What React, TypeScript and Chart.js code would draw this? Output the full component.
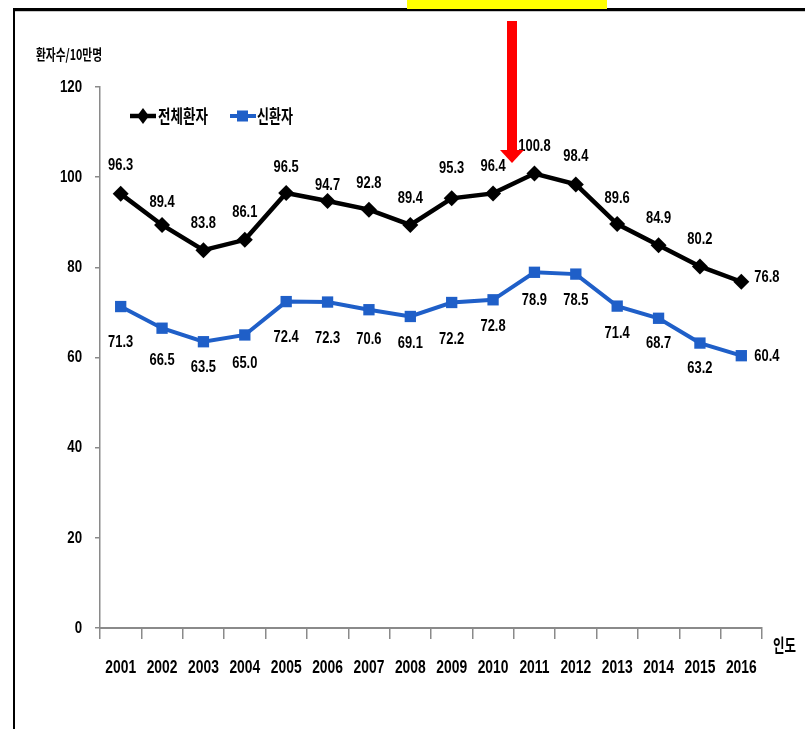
import React, { useEffect, useRef } from "react";
import { Chart, registerables } from "chart.js";

Chart.register(...registerables);

// ---- data ----
const years = ["2001", "2002", "2003", "2004", "2005", "2006", "2007", "2008", "2009", "2010", "2011", "2012", "2013", "2014", "2015", "2016"];
const totalPatients = [96.3, 89.4, 83.8, 86.1, 96.5, 94.7, 92.8, 89.4, 95.3, 96.4, 100.8, 98.4, 89.6, 84.9, 80.2, 76.8];
const newPatients = [71.3, 66.5, 63.5, 65.0, 72.4, 72.3, 70.6, 69.1, 72.2, 72.8, 78.9, 78.5, 71.4, 68.7, 63.2, 60.4];
const yTickValues = [0, 20, 40, 60, 80, 100, 120];
const seriesNames = ["전체환자", "신환자"];
const yAxisTitle = "환자수/10만명";
const xAxisTitle = "인도";

// ---- style ----
const FONT = "'Liberation Sans', Arial, sans-serif";
const KR = "'Noto Sans CJK KR', 'Noto Sans', sans-serif";
const BLACK = "#000000";
const BLUE = "#1f5fc8";
const AXIS = "#8a8a8a";
// label vertical nudges (px, relative to the point) as placed in the source
const totalLabelDy = [-29, -23, -27, -28, -26, -16, -26, -27, -30, -27, -27, -28, -26, -27, -27, -4];
const newLabelDy = [36, 32, 26, 28, 36, 36, 30, 27, 37, 27, 28, 26, 27, 25, 25, 1];

function squeezedText(ctx: CanvasRenderingContext2D, txt: string, x: number, y: number, k: number) {
  const w = ctx.measureText(txt).width;
  ctx.fillText(txt, x, y, w * k);
}

const decorPlugin = {
  id: "decor",
  afterDatasetsDraw(chart: any) {
    const ctx = chart.ctx as CanvasRenderingContext2D;
    ctx.save();
    ctx.font = `bold 17px ${FONT}`;
    ctx.fillStyle = "#000";
    ctx.textBaseline = "middle";
    const last = years.length - 1;
    [0, 1].forEach((di) => {
      const meta = chart.getDatasetMeta(di);
      const vals = di === 0 ? totalPatients : newPatients;
      const dys = di === 0 ? totalLabelDy : newLabelDy;
      meta.data.forEach((pt: any, i: number) => {
        const txt = vals[i].toFixed(1);
        if (i === last) {
          ctx.textAlign = "left";
          squeezedText(ctx, txt, pt.x + 13, pt.y + dys[i], 0.76);
        } else {
          ctx.textAlign = "center";
          squeezedText(ctx, txt, pt.x, pt.y + dys[i], 0.76);
        }
      });
    });
    ctx.restore();
  },
  afterDraw(chart: any) {
    const ctx = chart.ctx as CanvasRenderingContext2D;
    const xs = chart.scales.x;
    const ys = chart.scales.y;
    ctx.save();
    ctx.fillStyle = "#000";
    ctx.textBaseline = "middle";
    // x tick labels
    ctx.font = `bold 18px ${FONT}`;
    ctx.textAlign = "center";
    years.forEach((yr, i) => squeezedText(ctx, yr, xs.getPixelForValue(i), 668, 0.77));
    // y tick labels
    ctx.font = `bold 17px ${FONT}`;
    ctx.textAlign = "right";
    yTickValues.forEach((v) => squeezedText(ctx, String(v), ys.left + ys.width - 18, ys.getPixelForValue(v), 0.78));
    // frame lines
    ctx.fillStyle = "#000";
    ctx.fillRect(13, 8, 805 - 13, 3);
    ctx.fillStyle = "#c8c8c8";
    ctx.fillRect(13, 11, 805 - 13, 1);
    ctx.fillStyle = "#000";
    ctx.fillRect(13, 8, 2, 729 - 8);
    // yellow highlight box
    ctx.fillStyle = "#ffff00";
    ctx.fillRect(407, 0, 200, 9);
    // axis titles
    ctx.fillStyle = "#000";
    ctx.textAlign = "left";
    ctx.font = `bold 15px ${KR}`;
    ctx.fillText(yAxisTitle, 36, 54, 66);
    ctx.font = `bold 18px ${KR}`;
    ctx.fillText(xAxisTitle, 773, 645, 23);
    // legend
    const ly = 116;
    ctx.lineWidth = 4.5;
    ctx.strokeStyle = BLACK;
    ctx.beginPath();
    ctx.moveTo(130, ly);
    ctx.lineTo(156, ly);
    ctx.stroke();
    ctx.fillStyle = BLACK;
    ctx.beginPath();
    ctx.moveTo(143, ly - 8);
    ctx.lineTo(149, ly);
    ctx.lineTo(143, ly + 8);
    ctx.lineTo(137, ly);
    ctx.closePath();
    ctx.fill();
    ctx.font = `bold 18px ${KR}`;
    ctx.fillText(seriesNames[0], 158, ly, 50);
    ctx.lineWidth = 4;
    ctx.strokeStyle = BLUE;
    ctx.beginPath();
    ctx.moveTo(230, ly);
    ctx.lineTo(256, ly);
    ctx.stroke();
    ctx.fillStyle = BLUE;
    ctx.fillRect(237, ly - 5.5, 11, 11);
    ctx.fillStyle = "#000";
    ctx.fillText(seriesNames[1], 257, ly, 36);
    // red arrow
    ctx.fillStyle = "#ff0000";
    ctx.fillRect(507, 21, 10, 130);
    ctx.beginPath();
    ctx.moveTo(500, 150);
    ctx.lineTo(524, 150);
    ctx.lineTo(512, 163);
    ctx.closePath();
    ctx.fill();
    ctx.restore();
  },
};

export default function App() {
  const ref = useRef<HTMLCanvasElement | null>(null);
  useEffect(() => {
    if (!ref.current) return;
    const chart = new Chart(ref.current, {
      type: "line",
      data: {
        labels: years,
        datasets: [
          {
            label: seriesNames[0],
            data: totalPatients,
            borderColor: BLACK,
            backgroundColor: BLACK,
            borderWidth: 4.5,
            pointStyle: "rectRot",
            pointRadius: 8,
            pointBorderWidth: 0,
            tension: 0,
          },
          {
            label: seriesNames[1],
            data: newPatients,
            borderColor: BLUE,
            backgroundColor: BLUE,
            borderWidth: 4,
            pointStyle: "rect",
            pointRadius: 8,
            pointBorderWidth: 0,
            tension: 0,
          },
        ],
      },
      options: {
        animation: false,
        responsive: false,
        devicePixelRatio: 1,
        layout: { padding: { left: 0, right: 43, top: 87, bottom: 0 } },
        plugins: { legend: { display: false }, tooltip: { enabled: false }, title: { display: false } },
        scales: {
          x: {
            offset: true,
            grid: { offset: true, drawOnChartArea: false, drawTicks: true, tickLength: 11, color: AXIS, lineWidth: 1.5 },
            border: { display: true, color: AXIS, width: 2 },
            ticks: { display: false, autoSkip: false, maxRotation: 0 },
            afterFit: (s: any) => { s.height = 101; },
          },
          y: {
            min: yTickValues[0],
            max: yTickValues[yTickValues.length - 1],
            afterBuildTicks: (s: any) => { s.ticks = yTickValues.map((v) => ({ value: v })); },
            grid: { drawOnChartArea: false, drawTicks: true, tickLength: 5, color: AXIS, lineWidth: 1.5 },
            border: { display: true, color: AXIS, width: 1.5 },
            ticks: { display: false },
            afterFit: (s: any) => { s.width = 100; },
          },
        },
      },
      plugins: [decorPlugin],
    } as any);
    return () => chart.destroy();
  }, []);
  return (
    <div style={{ position: "fixed", left: 0, top: 0, width: 805, height: 729, background: "#fff" }}>
      <canvas ref={ref} width={805} height={729} style={{ width: 805, height: 729, display: "block" }} />
    </div>
  );
}
